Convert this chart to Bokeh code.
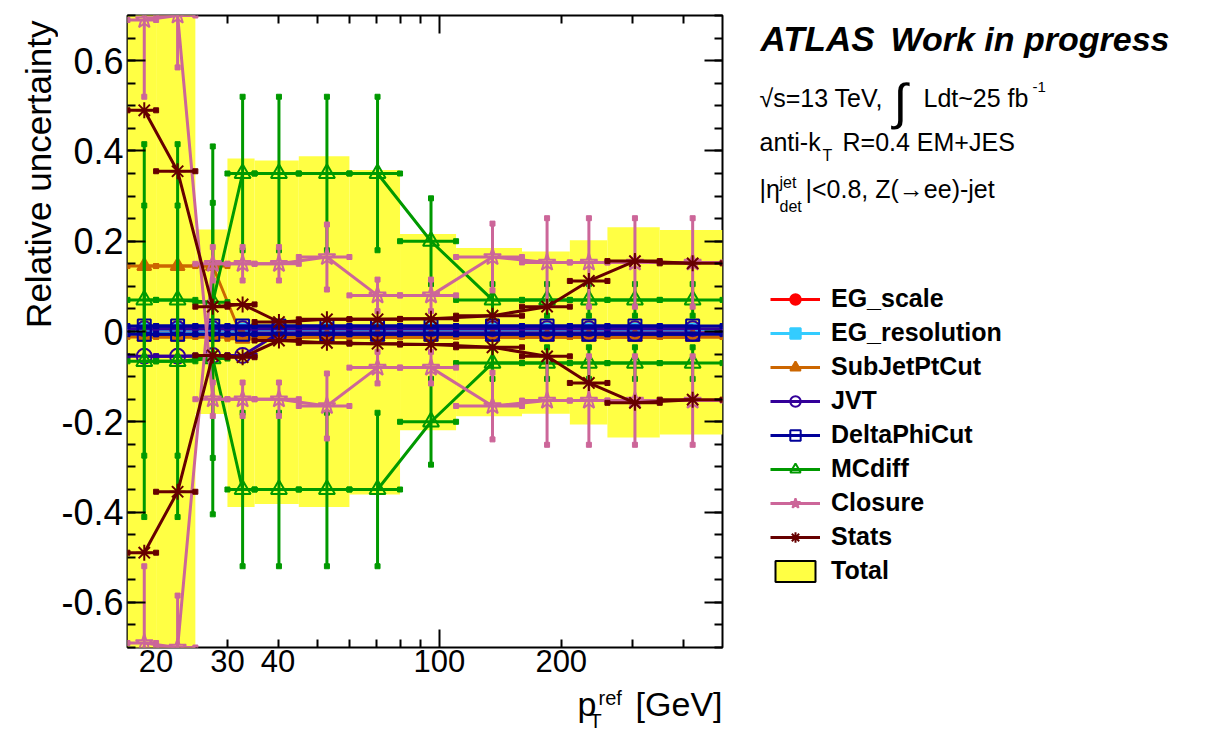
import math
import numpy as np
from bokeh.plotting import figure
from bokeh.layouts import row, column
from bokeh.core.properties import value
from bokeh.models import (Range1d, LogAxis, LinearAxis, FixedTicker, Legend,
                          LegendItem, ColumnDataSource, CustomJSTickFormatter)
from bokeh.embed import file_html
from bokeh.resources import INLINE

# ---------------- data ----------------
bin_edges = [17, 20, 25, 30, 35, 45, 60, 80, 110, 160, 210, 260, 350, 500]
pt_ref = [18.7, 22.6, 27.6, 32.7, 40.2, 52.8, 70.4, 95.4, 135.3, 184.5, 234.0, 304.0, 422.0]

eg_scale_up = [0.003, 0.003, 0.003, 0.003, 0.003, 0.003, 0.003, 0.003, 0.003, 0.003, 0.003, 0.003, 0.003]
eg_scale_dn = [-0.003, -0.003, -0.003, -0.003, -0.003, -0.003, -0.003, -0.003, -0.003, -0.003, -0.003, -0.003, -0.003]
eg_res_up = [0.004, 0.004, 0.004, 0.004, 0.004, 0.004, 0.004, 0.004, 0.004, 0.004, 0.004, 0.004, 0.004]
eg_res_dn = [-0.004, -0.004, -0.004, -0.004, -0.004, -0.004, -0.004, -0.004, -0.004, -0.004, -0.004, -0.004, -0.004]
subjet_up = [0.145, 0.145, 0.145, -0.016, -0.012, -0.012, -0.012, -0.012, -0.012, -0.012, -0.012, -0.012, -0.012]
subjet_dn = [-0.012, -0.012, -0.012, -0.012, -0.012, -0.012, -0.012, -0.012, -0.012, -0.012, -0.012, -0.012, -0.012]
jvt_up = [0.006, 0.006, 0.006, 0.006, 0.006, 0.006, 0.006, 0.006, 0.006, 0.006, 0.006, 0.006, 0.006]
jvt_dn = [-0.055, -0.055, -0.053, -0.053, -0.004, -0.004, -0.004, -0.004, -0.004, -0.004, -0.004, -0.004, -0.004]
dphi_up = [0.012, 0.012, 0.012, 0.012, 0.012, 0.012, 0.012, 0.012, 0.012, 0.012, 0.012, 0.012, 0.012]
dphi_dn = [-0.006, -0.006, -0.006, -0.006, -0.006, -0.006, -0.006, -0.006, -0.006, -0.006, -0.006, -0.006, -0.006]
mcdiff_up = [0.07, 0.07, 0.065, 0.35, 0.35, 0.35, 0.35, 0.20, 0.07, 0.07, 0.07, 0.07, 0.07]
mcdiff_dn = [-0.066, -0.066, -0.06, -0.35, -0.35, -0.35, -0.35, -0.20, -0.07, -0.07, -0.07, -0.07, -0.07]
mcdiff_err = [0.345, 0.345, 0.345, 0.17, 0.17, 0.17, 0.17, 0.095, 0.035, 0.035, 0.035, 0.035, 0.035]
closure_up = [0.69, 0.70, -0.15, -0.15, -0.15, -0.165, -0.08, -0.08, -0.165, -0.153, -0.153, -0.153, -0.153]
closure_dn = [-0.69, -0.70, 0.15, 0.15, 0.15, 0.165, 0.08, 0.08, 0.165, 0.153, 0.153, 0.153, 0.153]
closure_err = [0.17, 0.115, 0.037, 0.037, 0.037, 0.072, 0.035, 0.035, 0.074, 0.098, 0.098, 0.098, 0.098]
stats_up = [0.49, 0.355, 0.055, 0.06, 0.021, 0.027, 0.027, 0.028, 0.035, 0.055, 0.112, 0.156, 0.151]
stats_dn = [-0.49, -0.355, -0.053, -0.057, -0.02, -0.025, -0.027, -0.029, -0.035, -0.055, -0.114, -0.158, -0.151]
total_up = [0.86, 0.86, 0.226, 0.383, 0.379, 0.388, 0.358, 0.216, 0.185, 0.177, 0.202, 0.231, 0.225]
total_dn = [-0.86, -0.86, -0.183, -0.389, -0.382, -0.389, -0.361, -0.219, -0.188, -0.182, -0.206, -0.235, -0.228]

x_tick_labels = [20, 30, 40, 100, 200]
x_long_ticks = [100]
x_short_ticks = [30, 40, 50, 60, 70, 80, 90, 200, 300, 400]
y_major = [-0.6, -0.4, -0.2, 0.0, 0.2, 0.4, 0.6]
y_minor = [round(v, 2) for v in np.arange(-0.7, 0.7001, 0.05)]

series = [
    ("EG_scale", eg_scale_up, eg_scale_dn, None, "#FF0000", "circle", 13, True),
    ("EG_resolution", eg_res_up, eg_res_dn, None, "#33CCFF", "square", 12, True),
    ("SubJetPtCut", subjet_up, subjet_dn, None, "#CC6600", "triangle", 14, True),
    ("JVT", jvt_up, jvt_dn, None, "#330099", "circle", 15, False),
    ("DeltaPhiCut", dphi_up, dphi_dn, None, "#000099", "square", 13, False),
    ("MCdiff", mcdiff_up, mcdiff_dn, mcdiff_err, "#009900", "triangle", 16, False),
    ("Closure", closure_up, closure_dn, closure_err, "#CC6699", "star", 18, False),
    ("Stats", stats_up, stats_dn, None, "#660000", "asterisk", 16, False),
]
TOTAL_FILL = "#FFFF44"
FONT = "Liberation Sans"

# ---------------- layout geometry (pixels) ----------------
W, H = 1206, 732
LEFT_W = 58          # strip with the y title
MAIN_RIGHT = 732     # right edge of the main figure
MAIN_H = 684         # height of top row
FR_L, FR_R, FR_T, FR_B = 125, 722, 15, 647

X0, X1 = 17, 500
p = figure(width=MAIN_RIGHT - LEFT_W, height=MAIN_H, x_axis_type="log",
           x_range=Range1d(X0, X1), y_range=Range1d(-0.7, 0.7),
           output_backend="svg", toolbar_location=None, title=None,
           min_border_left=FR_L - LEFT_W, min_border_right=MAIN_RIGHT - FR_R,
           min_border_top=FR_T, min_border_bottom=MAIN_H - FR_B)
p.background_fill_color = "white"
p.border_fill_color = "white"
p.outline_line_color = "black"
p.outline_line_width = 2
p.grid.visible = False

# ---- axes ----
blank = CustomJSTickFormatter(code="return ''")
xa = p.xaxis[0]
xa.ticker = FixedTicker(ticks=x_long_ticks, minor_ticks=x_short_ticks)
xa.formatter = blank
xa.major_tick_in = 18; xa.major_tick_out = 0
xa.minor_tick_in = 8; xa.minor_tick_out = 0
xa.major_label_text_font_size = "0px"; xa.major_label_standoff = 0
xa.axis_line_color = None
xa.major_tick_line_width = 2; xa.minor_tick_line_width = 2

xlab = LogAxis(ticker=FixedTicker(ticks=x_tick_labels, minor_ticks=[]),
               formatter=CustomJSTickFormatter(code="return tick.toFixed(0)"),
               major_tick_in=0, major_tick_out=0, minor_tick_in=0, minor_tick_out=0,
               axis_line_color=None, major_label_standoff=2,
               major_label_text_font=FONT, major_label_text_font_size="31px",
               major_label_text_color="black")
p.add_layout(xlab, "below")

xtop = LogAxis(ticker=FixedTicker(ticks=x_long_ticks, minor_ticks=x_short_ticks), formatter=blank,
               major_tick_in=18, major_tick_out=0, minor_tick_in=8, minor_tick_out=0,
               major_label_text_font_size="0px", major_label_standoff=0, axis_line_color=None,
               major_tick_line_width=2, minor_tick_line_width=2)
p.add_layout(xtop, "above")

ya = p.yaxis[0]
ya.ticker = FixedTicker(ticks=y_major, minor_ticks=y_minor)
ya.formatter = CustomJSTickFormatter(code="return Math.abs(tick) < 1e-9 ? '0' : tick.toFixed(1)")
ya.major_tick_in = 18; ya.major_tick_out = 0
ya.minor_tick_in = 8; ya.minor_tick_out = 0
ya.major_label_text_font = FONT; ya.major_label_text_font_size = "36px"
ya.major_label_text_color = "black"; ya.major_label_standoff = 4
ya.axis_line_color = None
ya.major_tick_line_width = 2; ya.minor_tick_line_width = 2

yr = LinearAxis(ticker=FixedTicker(ticks=y_major, minor_ticks=y_minor), formatter=blank,
                major_tick_in=18, major_tick_out=0, minor_tick_in=8, minor_tick_out=0,
                major_label_text_font_size="0px", major_label_standoff=0, axis_line_color=None,
                major_tick_line_width=2, minor_tick_line_width=2)
p.add_layout(yr, "right")

# ---- total band ----
tot_src = ColumnDataSource(dict(left=bin_edges[:-1], right=bin_edges[1:], top=total_up, bottom=total_dn))
p.quad(left="left", right="right", top="top", bottom="bottom", source=tot_src,
       fill_color=TOTAL_FILL, line_color=None)

# ---- systematics ----
lo_edges = bin_edges[:-1]
hi_edges = bin_edges[1:]
for name, up, dn, err, color, marker, size, filled in series:
    for vals in (up, dn):
        d = dict(x=pt_ref, y=vals, lo=lo_edges, hi=hi_edges)
        if err is not None:
            d["ylo"] = list(np.array(vals) - np.array(err))
            d["yhi"] = list(np.array(vals) + np.array(err))
        src = ColumnDataSource(d)
        p.segment(x0="lo", x1="hi", y0="y", y1="y", source=src, line_color=color, line_width=3)
        p.scatter(x="lo", y="y", source=src, marker="square", size=5, color=color)
        p.scatter(x="hi", y="y", source=src, marker="square", size=5, color=color)
        if err is not None:
            p.segment(x0="x", x1="x", y0="ylo", y1="yhi", source=src, line_color=color, line_width=3)
            p.scatter(x="x", y="ylo", source=src, marker="square", size=5, color=color)
            p.scatter(x="x", y="yhi", source=src, marker="square", size=5, color=color)
        p.line(x="x", y="y", source=src, line_color=color, line_width=3)
        p.scatter(x="x", y="y", source=src, marker=marker, size=size, line_color=color,
                  line_width=2, fill_color=color if filled else None,
                  fill_alpha=1.0 if filled else 0.0)


# ---------------- text panels (coordinates = page pixels, y negated) ----------------
def text_panel(x_from, x_to, y_from, y_to, top_border=0, bottom_border=0):
    f = figure(width=x_to - x_from, height=y_to - y_from,
               x_range=Range1d(x_from, x_to),
               y_range=Range1d(-(y_to - bottom_border), -(y_from + top_border)),
               output_backend="svg", toolbar_location=None, title=None,
               x_axis_location=None, y_axis_location=None,
               min_border_left=0, min_border_right=0,
               min_border_top=top_border, min_border_bottom=bottom_border)
    f.outline_line_color = None
    f.background_fill_color = "white"
    f.border_fill_color = "white"
    f.grid.visible = False
    return f


MID = 0.35  # distance from alphabetic baseline to the text box middle, in em


def lab(f, text, px, py, size, style="normal", align="left", vertical=False):
    # (px, py) is the wanted baseline anchor; texts are placed by their middle
    if vertical:
        x, y, angle = px - MID * size, py, math.pi / 2
    else:
        x, y, angle = px, py - MID * size, 0.0
    f.text(x=[x], y=[-y], text=[text], text_font=value(FONT),
           text_font_size=value(f"{size}px"), text_font_style=value(style),
           text_align=value(align), text_baseline=value("middle"), angle=angle,
           text_color="black")


# side panels share the main frame's top/bottom edges (row layouts align frames)
left = text_panel(0, LEFT_W, 0, MAIN_H, FR_T, MAIN_H - FR_B)
lab(left, "Relative uncertainty", 50, 20, 35, align="right", vertical=True)

right = text_panel(MAIN_RIGHT, W, 0, MAIN_H, FR_T, MAIN_H - FR_B)
lab(right, "ATLAS", 760, 50, 35, "bold italic")
lab(right, "Work in progress", 890, 50, 34, "bold italic")
lab(right, "\u221as=13 TeV,", 759, 106, 25)
lab(right, "\u222b", 893, 119, 50)
lab(right, "Ldt~25 fb", 923, 106, 25)
lab(right, "-1", 1032, 92, 15)
lab(right, "anti-k", 759, 150, 25)
lab(right, "T", 822, 161, 16)
lab(right, "R=0.4 EM+JES", 842, 150, 25)
lab(right, "|\u03b7", 759, 197, 25)
lab(right, "jet", 779, 188, 16)
lab(right, "det", 779, 212, 16)
lab(right, "|<0.8, Z(\u2192ee)-jet", 805, 197, 25)

# legend with stand-in renderers (no visible data) styled like the plotted series
nan = [float("nan")]
items = []
for name, up, dn, err, color, marker, size, filled in series:
    ln = right.line(x=nan, y=nan, line_color=color, line_width=3)
    mk = right.scatter(x=nan, y=nan, marker=marker, size=size, line_color=color, line_width=2,
                       fill_color=color if filled else None, fill_alpha=1.0 if filled else 0.0)
    items.append(LegendItem(label=name, renderers=[ln, mk]))
tq = right.quad(left=nan, right=nan, top=nan, bottom=nan, fill_color=TOTAL_FILL,
                line_color="black", line_width=2)
items.append(LegendItem(label="Total", renderers=[tq]))
legend = Legend(items=items, location=(770 - MAIN_RIGHT, FR_B - 585), label_text_font=FONT,
                label_text_font_style="bold", label_text_font_size="25px",
                label_text_color="black",
                glyph_width=50, glyph_height=26, label_standoff=11, spacing=5,
                padding=0, margin=0, border_line_color=None, background_fill_alpha=0)
right.add_layout(legend)

bottom = text_panel(0, W, MAIN_H, H)
lab(bottom, "[GeV]", 722, 715, 34, align="right")
lab(bottom, "p", 577, 715, 34)
lab(bottom, "ref", 598, 704, 20)
lab(bottom, "T", 589, 727, 20)

layout = column(row(left, p, right), bottom)
open("out.html", "w").write(file_html(layout, INLINE))
